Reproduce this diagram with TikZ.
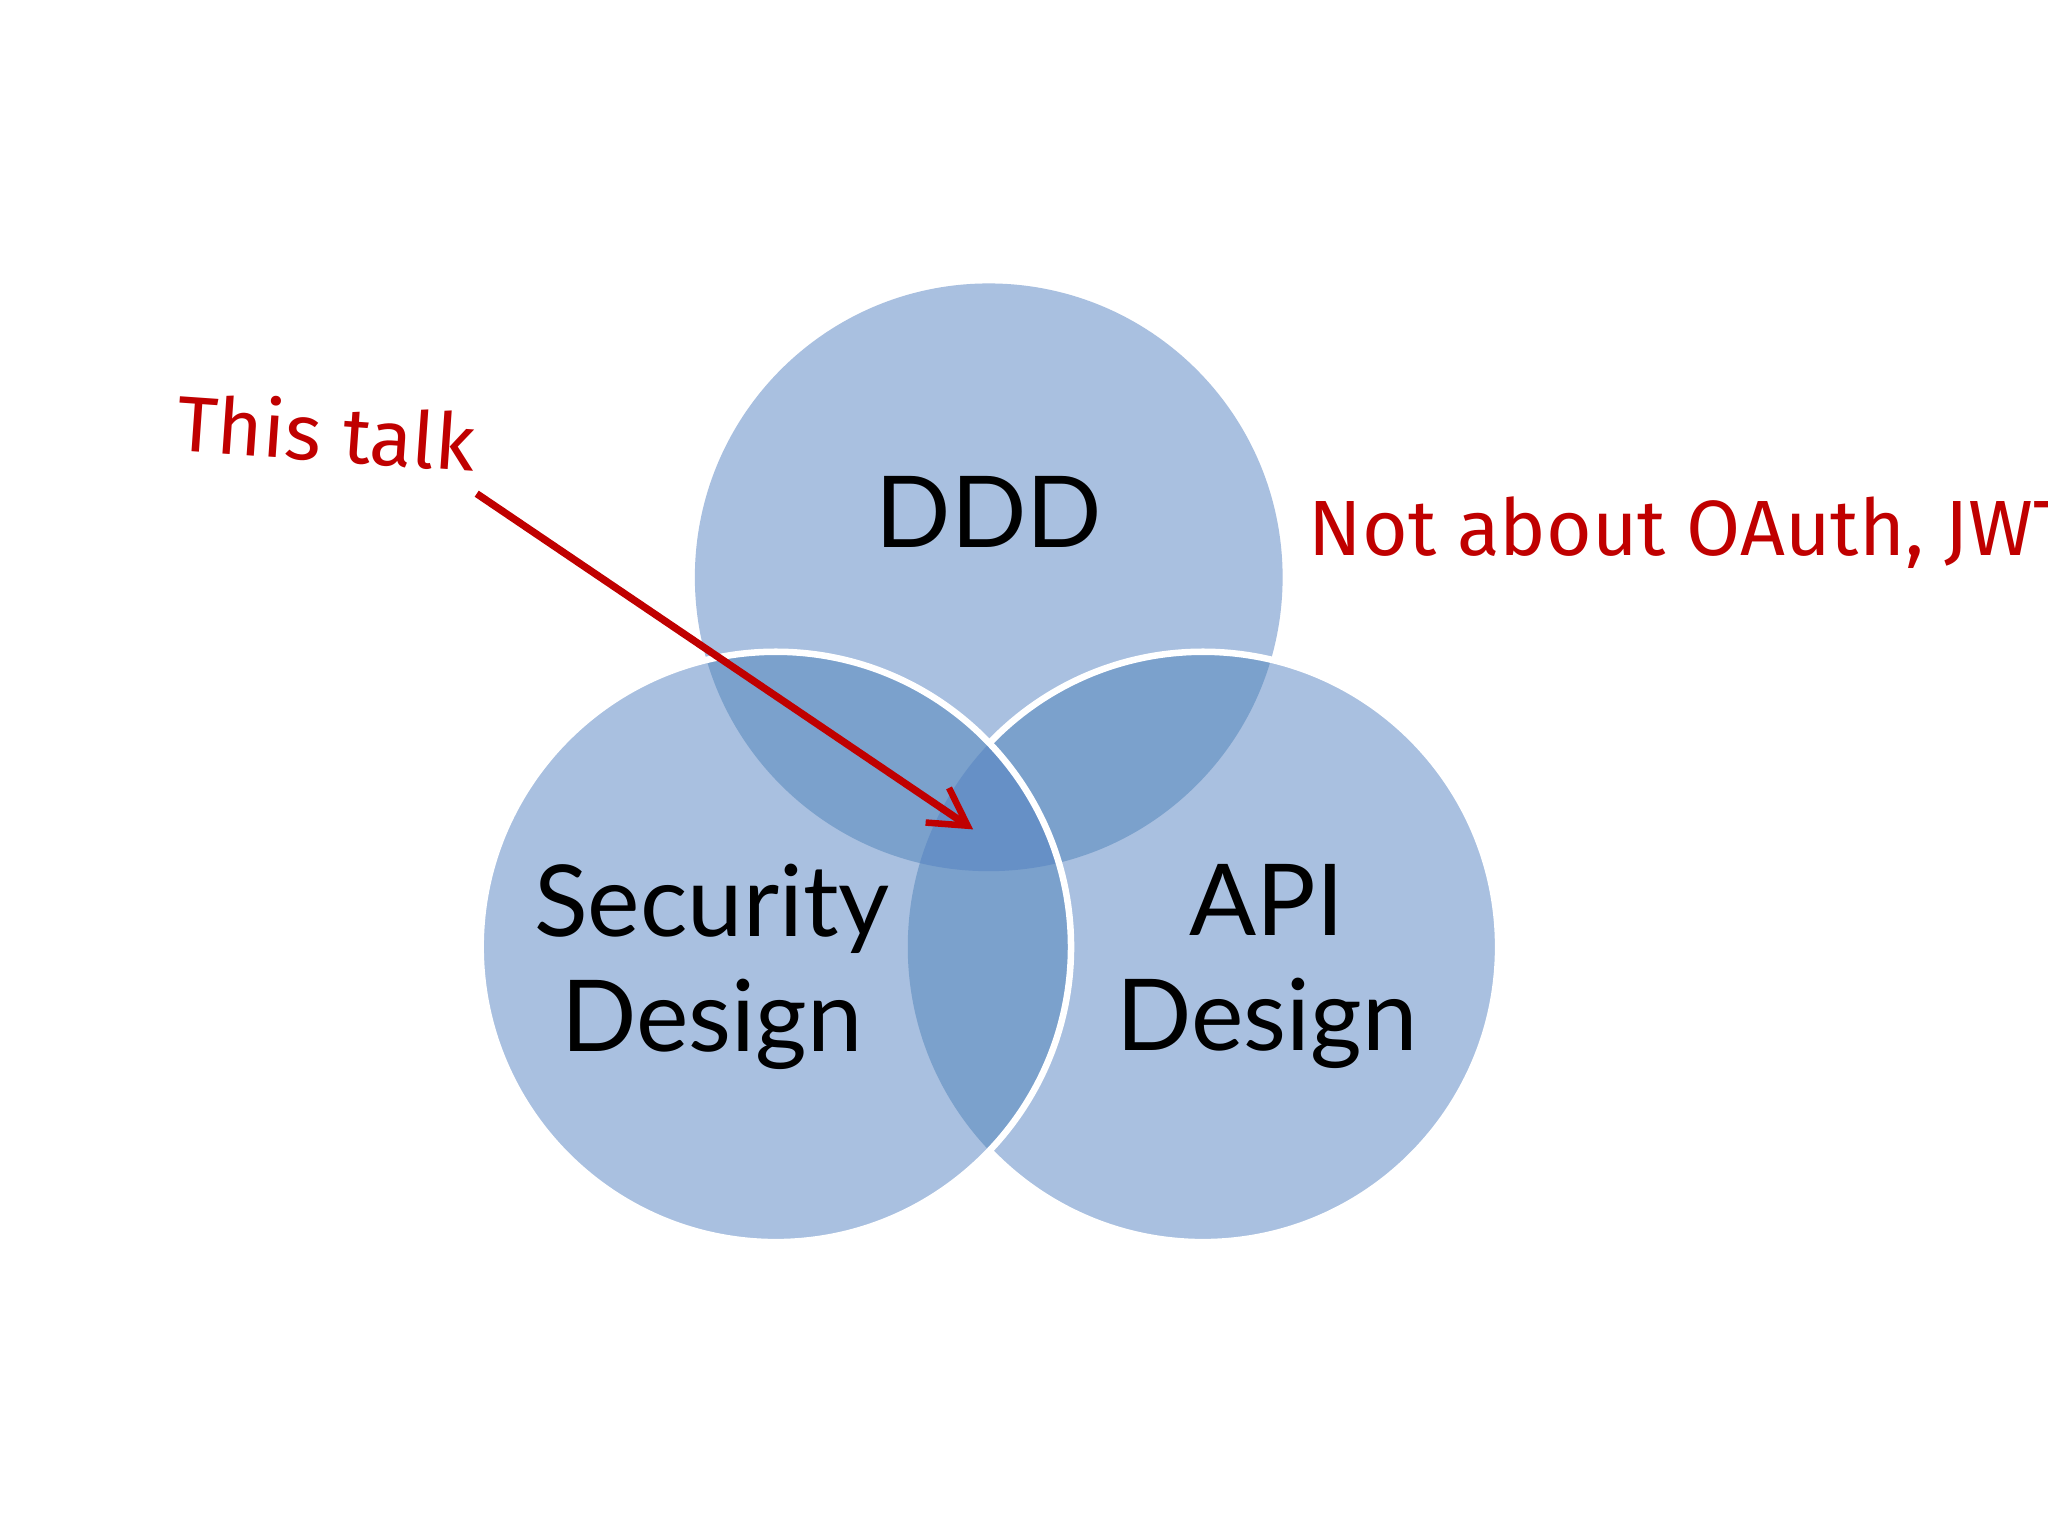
\documentclass[tikz,border=0pt]{standalone}
\usepackage{fontspec}
\setmainfont{Lato}
\newfontfamily\hand{Fira Sans}
\usetikzlibrary{arrows.meta}
\definecolor{c1}{HTML}{A9C0E0}
\definecolor{c2}{HTML}{7BA1CC}
\definecolor{c3}{HTML}{6690C6}
\definecolor{red1}{HTML}{C00000}
\tikzset{lab/.style={font=\fontsize{38}{44}\selectfont,align=center,text=black},
note/.style={font=\hand\fontsize{30}{30}\selectfont,text=red1}}
\begin{document}
\begin{tikzpicture}[x=0.5pt,y=-0.5pt]
\useasboundingbox (0,0) rectangle (1568,1176);
\fill[white] (0,0) rectangle (1568,1176);
\def\cirT{(757,442) circle (225)}
\def\cirL{(594,725) circle (226)}
\def\cirR{(921,725) circle (226)}
\fill[c1] \cirT; \fill[c1] \cirL; \fill[c1] \cirR;
\begin{scope}\clip \cirT; \fill[c2] \cirL; \fill[c2] \cirR;\end{scope}
\begin{scope}\clip \cirL; \fill[c2] \cirR;\end{scope}
\begin{scope}\clip \cirT; \clip \cirL; \fill[c3] \cirR;\end{scope}
\begin{scope}[even odd rule]\clip (0,0) rectangle (1568,1176) \cirL;
\draw[white,line width=2.5] \cirR;\end{scope}
\draw[white,line width=2.5] \cirL;
\node[lab] (ddd) at (757,392) {DDD};
\node[lab] (sec) at (545,740) {Security\\Design};
\node[lab] (api) at (970,740) {API\\Design};
\node[note,rotate=-4] (talk) at (250,330) {This talk};
\node[note,anchor=west] (not) at (995,408) {Not about OAuth, JWT etc};
\coordinate (a0) at (365,378);
\coordinate (a1) at (745,635);
\draw[red1,line width=2.8pt,-{Straight Barb[length=14pt,width=16pt,line width=2.5pt]}] (a0) -- (a1);
\end{tikzpicture}
\end{document}
